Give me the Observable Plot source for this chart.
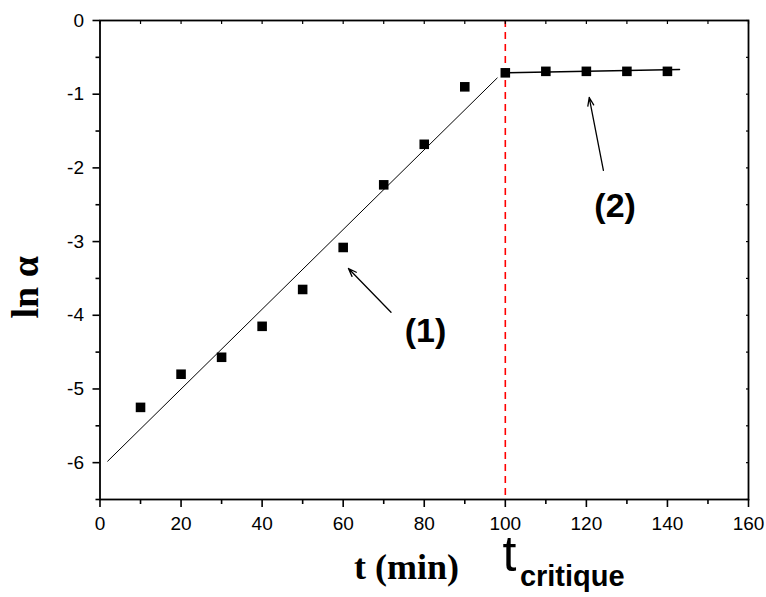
<!DOCTYPE html>
<html><head><meta charset="utf-8">
<script src="https://cdn.jsdelivr.net/npm/d3@7"></script>
<script src="https://cdn.jsdelivr.net/npm/@observablehq/plot@0.6"></script>
<style>body{margin:0;background:#fff;} svg{display:block;}</style>
</head><body><div id="chart"></div>
<script>
const times = [10,20,30,40,50,60,70,80,90,100,110,120,130,140];
const lnAlpha = [-5.25,-4.80,-4.57,-4.15,-3.65,-3.08,-2.23,-1.68,-0.90,-0.71,-0.69,-0.69,-0.69,-0.69];
const fit1X = [1.9, 98.0];
const fit1Y = [-5.98, -0.78];
const fit2X = [100, 143];
const fit2Y = [-0.71, -0.665];
const tCritical = 100;
const xTicks = [0,20,40,60,80,100,120,140,160];
const xMinor = [10,30,50,70,90,110,130,150];
const yTicks = [-6,-5,-4,-3,-2,-1,0];
const yMinor = [-6.5,-5.5,-4.5,-3.5,-2.5,-1.5,-0.5];
const labels = ["(1)", "(2)"];
const labelX = [80.3, 127.1];
const labelY = [-4.21, -2.52];
const arrowFromX = [71.8, 124.2], arrowFromY = [-3.96, -2.035];
const arrowToX = [61.3, 120.7], arrowToY = [-3.365, -1.045];

const pts = times.map((t,i)=>({t, v: lnAlpha[i]}));
const f1 = fit1X.map((x,i)=>({x, y: fit1Y[i]}));
const f2 = fit2X.map((x,i)=>({x, y: fit2Y[i]}));
const ann = labels.map((l,i)=>({l, x: labelX[i], y: labelY[i]}));
const arr = arrowFromX.map((x,i)=>({x1:x, y1:arrowFromY[i], x2:arrowToX[i], y2:arrowToY[i]}));
const fmt = d => String(d);
const sans = "Arial, 'Liberation Sans', sans-serif";
const serif = "'Times New Roman', 'Liberation Serif', serif";

const chart = Plot.plot({
  width: 766, height: 597,
  marginLeft: 99.5, marginRight: 18, marginTop: 20, marginBottom: 98,
  style: {fontFamily: sans, fontSize: "19px", color: "#000", background: "#fff"},
  x: {domain: [0,160]},
  y: {domain: [-6.5, 0]},
  marks: [
    Plot.ruleX([tCritical], {stroke: "#ff0000", strokeWidth: 1.6, strokeDasharray: "7,5"}),
    Plot.line(f1, {x: "x", y: "y", stroke: "#000", strokeWidth: 1}),
    Plot.line(f2, {x: "x", y: "y", stroke: "#000", strokeWidth: 1.3}),
    Plot.dot(pts, {x: "t", y: "v", symbol: "square", r: 5.4, fill: "#000", stroke: "none"}),
    Plot.arrow(arr, {x1: "x1", y1: "y1", x2: "x2", y2: "y2", stroke: "#000", strokeWidth: 1.3, headLength: 10, headAngle: 40}),
    Plot.text(ann, {x: "x", y: "y", text: "l", fontSize: 34, fontWeight: "bold", fontFamily: sans}),
    Plot.frame({stroke: "#000", strokeWidth: 1.8}),
    Plot.axisX({ticks: xTicks, tickSize: 8, tickPadding: 9, tickFormat: fmt, label: null, strokeWidth: 1.6, fontSize: 19}),
    Plot.axisX({ticks: xMinor, tickSize: 5, tickFormat: () => "", label: null, strokeWidth: 1.6}),
    Plot.axisX({anchor: "top", ticks: d3.range(0,161,10), tickSize: -3, tickFormat: () => "", label: null, strokeWidth: 1.2}),
    Plot.axisY({ticks: yTicks, tickSize: 7, tickPadding: 9, tickFormat: fmt, label: null, strokeWidth: 1.6, fontSize: 19}),
    Plot.axisY({ticks: yMinor, tickSize: 4, tickFormat: () => "", label: null, strokeWidth: 1.6}),
    Plot.axisY({anchor: "right", ticks: d3.range(-6.5,0.01,0.5), tickSize: -3, tickFormat: () => "", label: null, strokeWidth: 1.2}),
    Plot.text(["t (min)"], {x: 75.6, frameAnchor: "bottom", lineAnchor: "middle", dy: 68, text: d => d, fontSize: 36, fontWeight: "bold", fontFamily: serif}),
    Plot.text(["ln α"], {frameAnchor: "left", textAnchor: "middle", lineAnchor: "middle", y: -3.62, dx: -74, rotate: -90, text: d => d, fontSize: 38, fontWeight: "bold", fontFamily: serif}),
    Plot.text(["t"], {x: 101, frameAnchor: "bottom", lineAnchor: "middle", dy: 55, text: d => d, fontSize: 50, fontFamily: sans}),
    Plot.text(["critique"], {x: 103.6, frameAnchor: "bottom", lineAnchor: "middle", dy: 77, textAnchor: "start", text: d => d, fontSize: 29, fontWeight: "bold", fontFamily: sans})
  ]
});
document.getElementById("chart").appendChild(chart);
</script></body></html>
